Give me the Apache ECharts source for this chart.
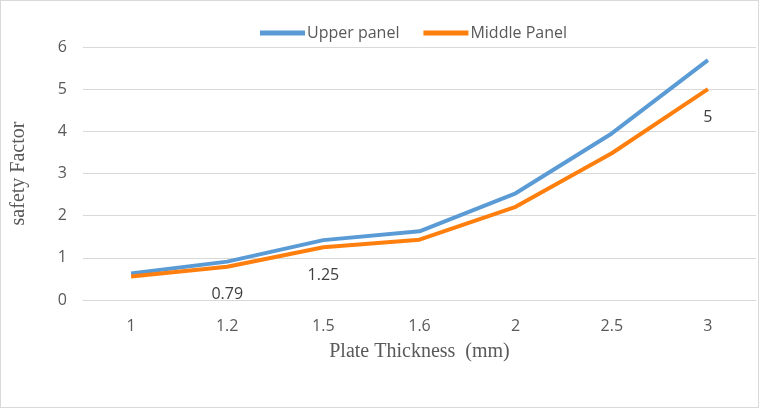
<!DOCTYPE html>
<html>
<head>
<meta charset="utf-8">
<script src="https://cdn.jsdelivr.net/npm/echarts@6/dist/echarts.min.js"></script>
<style>
html,body{margin:0;padding:0;background:#fff;}
#c{width:759px;height:408px;box-sizing:border-box;border:1px solid #d9d9d9;}
</style>
</head>
<body>
<div id="c"></div>
<script>
const categories = ['1', '1.2', '1.5', '1.6', '2', '2.5', '3'];
const upperPanel = [0.63, 0.91, 1.42, 1.63, 2.53, 3.95, 5.69];
const middlePanel = [0.56, 0.79, 1.25, 1.43, 2.21, 3.48, 5];
const middleLabelIdx = [1, 2, 6];
const yTicks = [0, 1, 2, 3, 4, 5, 6];

const chart = echarts.init(document.getElementById('c'));
const sans = 'Open Sans';
chart.setOption({
  animation: false,
  legend: {
    top: 19,
    left: 254,
    icon: 'rect',
    itemWidth: 45,
    itemHeight: 5,
    itemGap: 24,
    textStyle: {fontFamily: sans, fontSize: 16, color: '#595959', padding: [0,0,0,-3]},
    data: ['Upper panel', 'Middle Panel']
  },
  grid: {left: 82, right: 2, top: 46, bottom: 107},
  xAxis: {
    type: 'category',
    data: categories,
    boundaryGap: true,
    axisLine: {lineStyle: {color: '#d9d9d9'}},
    axisTick: {show: false},
    axisLabel: {fontFamily: sans, fontSize: 16, color: '#595959', margin: 18},
    name: 'Plate Thickness  (mm)',
    nameLocation: 'middle',
    nameGap: 42,
    nameTextStyle: {fontFamily: 'Liberation Serif', fontSize: 20, color: '#595959'}
  },
  yAxis: {
    type: 'value',
    min: yTicks[0],
    max: yTicks[yTicks.length - 1],
    interval: 1,
    axisLine: {show: false},
    axisTick: {show: false},
    splitLine: {lineStyle: {color: '#d9d9d9', width: 1}},
    axisLabel: {fontFamily: sans, fontSize: 16, color: '#595959', margin: 16},
    name: 'safety Factor',
    nameLocation: 'middle',
    nameGap: 54,
    nameTextStyle: {fontFamily: 'Liberation Serif', fontSize: 20, color: '#595959'}
  },
  series: [
    {
      name: 'Upper panel',
      type: 'line',
      data: upperPanel,
      symbol: 'none',
      lineStyle: {width: 4, color: '#5B9BD5'},
      itemStyle: {color: '#5B9BD5'}
    },
    {
      name: 'Middle Panel',
      type: 'line',
      data: middlePanel.map((v, i) => ({
        value: v,
        label: {show: middleLabelIdx.includes(i)}
      })),
      symbol: 'circle',
      symbolSize: 0,
      showSymbol: true,
      lineStyle: {width: 4, color: '#FF7F0E'},
      itemStyle: {color: '#FF7F0E'},
      label: {
        show: false,
        position: 'bottom',
        distance: 20,
        fontFamily: sans,
        fontSize: 16,
        color: '#404040'
      }
    }
  ]
});
</script>
</body>
</html>
